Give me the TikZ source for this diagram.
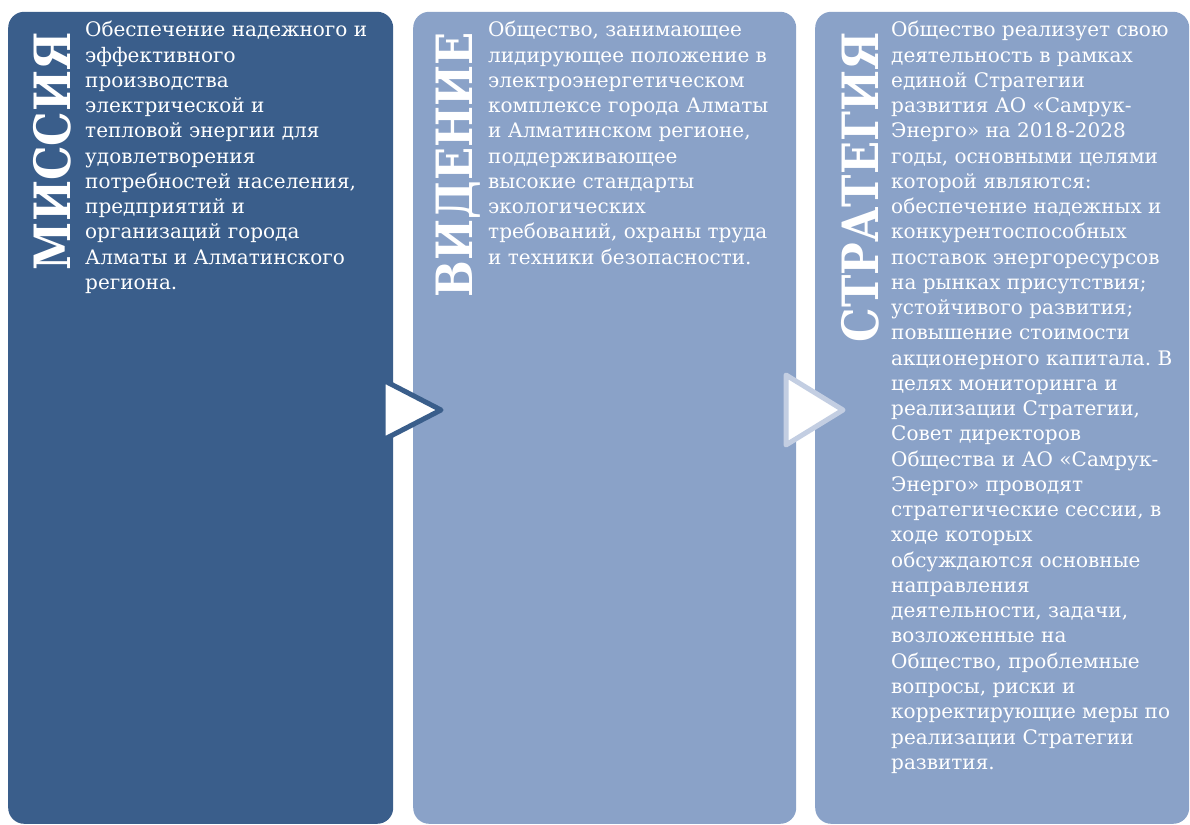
\documentclass[tikz,border=0pt]{standalone}
\usepackage{fontspec}
\setmainfont{DejaVu Serif}
\frenchspacing
\definecolor{missionblue}{HTML}{3A5E8B}
\definecolor{lightblue}{HTML}{8AA2C8}
\definecolor{paleblue}{HTML}{C3CEE2}
\newcommand{\titlefit}[1]{\scalebox{0.87}[1]{#1}}
\tikzset{
  panel/.style={rectangle, rounded corners=16pt, minimum height=812pt, inner sep=0pt, anchor=south west},
  paneltitle/.style={text=white, font=\bfseries\fontsize{50}{50}\selectfont, rotate=90, anchor=base east, inner sep=0pt},
  paneltext/.style={text=white, font=\fontsize{20}{25.25}\selectfont, align=left, anchor=base west, inner sep=0pt},
  chevron/.style={fill=white, line width=5pt, line join=round}
}
\begin{document}
\begin{tikzpicture}[x=1pt, y=1pt]
    \useasboundingbox (0,0) rectangle (1190,824);

    % panels
    \node[panel, fill=missionblue, minimum width=385pt] (mission) at (8,0) {};
    \node[panel, fill=lightblue, minimum width=383pt] (vision) at (413,0) {};
    \node[panel, fill=lightblue, minimum width=374pt] (strategy) at (815,0) {};

    % titles
    \node[paneltitle] (missiontitle) at (70,792) {\titlefit{МИССИЯ}};
    \node[paneltitle] (visiontitle) at (472,792) {\titlefit{ВИДЕНИЕ}};
    \node[paneltitle] (strategytitle) at (878,792) {\titlefit{СТРАТЕГИЯ}};

    % texts (anchored at the baseline of the last line)
    \node[paneltext] (missiontext) at (85,534.5) {Обеспечение надежного и\\эффективного\\производства\\электрической и\\тепловой энергии для\\удовлетворения\\потребностей населения,\\предприятий и\\организаций города\\Алматы и Алматинского\\региона.};
    \node[paneltext] (visiontext) at (488,559.75) {Общество, занимающее\\лидирующее положение в\\электроэнергетическом\\комплексе города Алматы\\и Алматинском регионе,\\поддерживающее\\высокие стандарты\\экологических\\требований, охраны труда\\и техники безопасности.};
    \node[paneltext] (strategytext) at (891,54.75) {Общество реализует свою\\деятельность в рамках\\единой Стратегии\\развития АО «Самрук-\\Энерго» на 2018-2028\\годы, основными целями\\которой являются:\\обеспечение надежных и\\конкурентоспособных\\поставок энергоресурсов\\на рынках присутствия;\\устойчивого развития;\\повышение стоимости\\акционерного капитала. В\\целях мониторинга и\\реализации Стратегии,\\Совет директоров\\Общества и АО «Самрук-\\Энерго» проводят\\стратегические сессии, в\\ходе которых\\обсуждаются основные\\направления\\деятельности, задачи,\\возложенные на\\Общество, проблемные\\вопросы, риски и\\корректирующие меры по\\реализации Стратегии\\развития.};

    % arrows between panels
    \draw[chevron, draw=missionblue] (383,444)--(441,414)--(383,384)--cycle;
    \draw[chevron, draw=paleblue] (786,449)--(843,414)--(786,379)--cycle;
\end{tikzpicture}
\end{document}
